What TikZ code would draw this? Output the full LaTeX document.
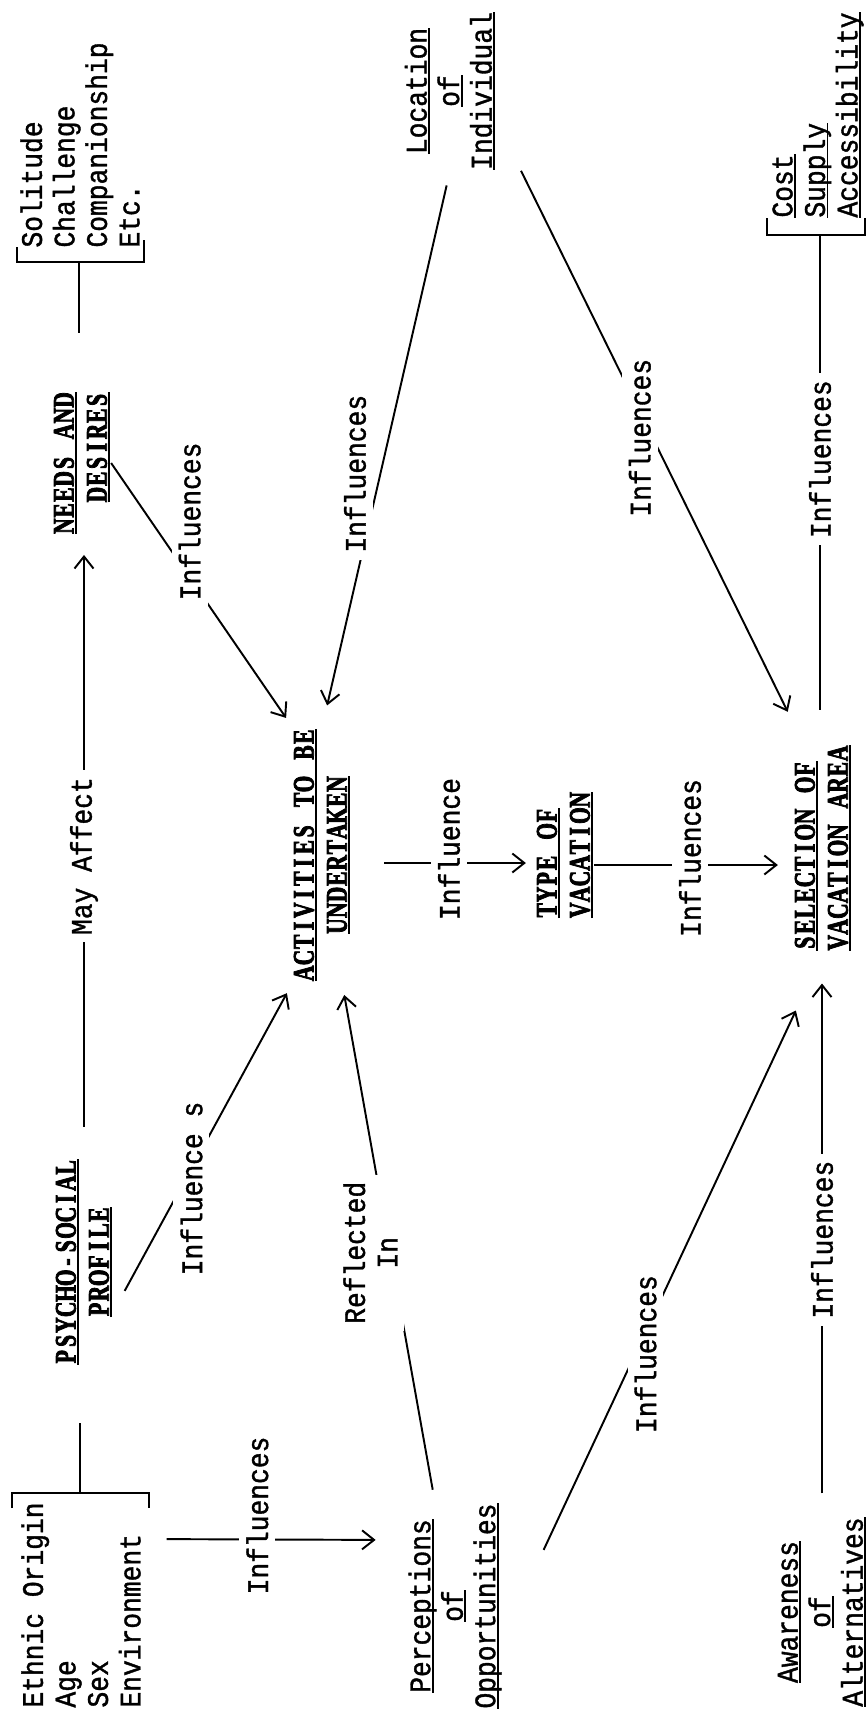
\documentclass[tikz,border=0pt]{standalone}
\usepackage{fontspec}
\usepackage{tikz}
\usetikzlibrary{arrows.meta,positioning,calc}
\newfontfamily\twfont[FakeStretch=0.88,FakeBold=1.2]{Liberation Mono}
\newfontfamily\hdfont[FakeStretch=0.72,FakeBold=2.5]{Liberation Serif}
\newcommand{\twsize}{\twfont\fontsize{17}{18.5}\selectfont}
\newcommand{\hdsize}{\hdfont\bfseries\fontsize{17}{18.8}\selectfont}
% typewriter pitch for the capital headings
\newcommand{\tpw}[1]{\tpwloop#1\relax}
\def\tpwloop#1{\ifx#1\relax\else\makebox[8.98pt]{#1}\expandafter\tpwloop\fi}
\newcommand{\undr}[1]{\setbox0=\hbox{#1}\rlap{\rule[-2pt]{\wd0}{1pt}}\box0}

\begin{document}
\begin{tikzpicture}[x=0.02cm,y=-0.02cm,
      txt/.style={rotate=90,inner sep=0pt,font=\twsize},
      hd/.style={rotate=90,inner sep=0pt,font=\hdsize},
      lbl/.style={rotate=90,inner sep=4pt,fill=white,font=\twsize},
      >={Straight Barb[length=2.4mm,width=3.8mm]},line width=1.1pt]
    \useasboundingbox (0,0) rectangle (866,1718);
    % left column
    \node[txt,align=left] (sol) at (80,145) {Solitude\\Challenge\\Companionship\\Etc.};
    \node[hd,align=right] (needs) at (82,463) {\undr{\tpw{NEEDS~AND}}\\\undr{\tpw{DESIRES}}};
    \node[hd,align=center] (psy) at (84,1262) {\undr{\tpw{PSYCHO-SOCIAL}}\\\undr{\tpw{PROFILE}}};
    \node[txt,align=left] (eth) at (81,1605) {Ethnic Origin\\Age\\Sex\\Environment};
    % middle column
    \node[txt,align=center] (loc) at (450,91) {\undr{Location}\\\undr{of}\\\undr{Individual}};
    \node[hd,align=center] (act) at (322,855) {\undr{\tpw{ACTIVITIES~TO~BE}}\\\undr{\tpw{UNDERTAKEN}}};
    \node[hd,align=left] (type) at (565,855) {\undr{\tpw{TYPE~OF}}\\\undr{\tpw{VACATION}}};
    \node[txt,align=center] (perc) at (455,1606) {\undr{Perceptions}\\\undr{of}\\\undr{Opportunities}};
    % right column
    \node[txt,align=left] (cost) at (818,115) {\undr{Cost}\\\undr{Supply}\\\undr{Accessibility}};
    \node[hd,align=left] (sel) at (823,848) {\undr{\tpw{SELECTION~OF}}\\\undr{\tpw{VACATION~AREA}}};
    \node[txt,align=center] (awr) at (822,1612) {\undr{Awareness}\\\undr{of}\\\undr{Alternatives}};
    % brackets
    \coordinate (solb) at (79,262);
    \coordinate (ethb) at (80,1493);
    \coordinate (costb) at (820,235);
    \draw (17,247) -- (17,262) -- (144,262) -- (144,240);
    \draw (12,1508) -- (12,1493) -- (149,1493) -- (149,1508);
    \draw (767,218) -- (767,235) -- (865,235) -- (865,218);
    \draw[shorten >=1.16cm] (solb) -- (solb |- needs.east);
    \draw[shorten >=1.14cm] (ethb) -- (ethb |- psy.west);
    % connectors
    \draw[->,shorten <=0.5cm,shorten >=0.64cm] ([yshift=1.32cm]eth.south) -- node[lbl,pos=0.435,xshift=0.48cm]{Influences} ([yshift=1.32cm]perc.north);
    \draw[->,shorten <=1.7cm,shorten >=0.25cm] (psy.west) -- node[lbl,pos=0.548,xshift=-0.66cm,yshift=0.14cm]{Influence s} (act.north west);
    \draw[->,shorten <=0.64cm,shorten >=0.4cm] (psy.east) -- node[lbl,pos=0.485]{May Affect} (psy.east |- needs.west);
    \draw[->,shorten >=0.24cm] (needs.south) -- node[lbl,pos=0.432,xshift=1.12cm]{Influences} (act.north east);
    \draw[->,shorten <=0.3cm,shorten >=0.46cm] (loc.west) -- node[lbl,pos=0.664,xshift=1.34cm,yshift=0.2cm]{Influences} (act.east);
    \draw[->,shorten <=0.26cm,shorten >=0.26cm] ([xshift=-0.4cm]perc.east) -- node[lbl,align=center,pos=0.48,yshift=0.4cm]{Reflected\\In} ([xshift=0.4cm]act.west);
    \draw[->,shorten <=0.66cm,shorten >=0.2cm] ([yshift=-0.16cm]act.south) -- node[lbl,pos=0.53,xshift=0.28cm]{Influence} ([yshift=-0.16cm]type.north);
    \draw[->,shorten >=0.32cm] ([yshift=-0.2cm]type.south) -- node[lbl,pos=0.48,xshift=0.14cm]{Influences} ([yshift=-0.34cm]sel.north);
    \draw[->,shorten >=0.73cm] ([xshift=0.5cm]loc.south west) -- node[lbl,pos=0.42,xshift=-0.52cm]{Influences} ([xshift=0.2cm]sel.north east);
    \draw[->,shorten <=1.24cm] ([xshift=0.3cm]perc.south) -- node[lbl,pos=0.46,xshift=-0.44cm]{Influences} ([xshift=0.04cm,yshift=-1.18cm]sel.north west);
    \draw[->,shorten <=0.46cm,shorten >=0.64cm] (awr.east) -- node[lbl,pos=0.49]{Influences} (awr.east |- sel.west);
    \draw[shorten >=0.68cm] (costb) -- node[lbl,pos=0.44]{Influences} (costb |- sel.east);
\end{tikzpicture}
\end{document}
